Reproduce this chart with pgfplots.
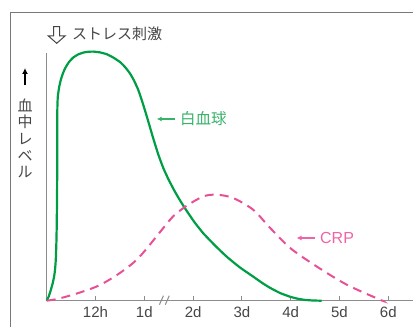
\documentclass[border=0pt]{standalone}
\usepackage{pgfplots}
\pgfplotsset{compat=1.18}
\usepackage{fontspec}
\setmainfont{Liberation Sans}
\newfontfamily\cjk{Noto Sans CJK JP}
\usetikzlibrary{arrows.meta}
\definecolor{wbc}{RGB}{0,158,68}
\definecolor{crp}{RGB}{232,80,150}
\definecolor{wbctext}{RGB}{55,178,105}
\definecolor{crptext}{RGB}{238,100,168}
\definecolor{axisgray}{RGB}{140,140,140}
\definecolor{framegray}{RGB}{120,120,120}
\definecolor{txtgray}{RGB}{70,70,70}
\pgfplotstableread{
x y
0 0
0.037 3.7
0.078 9.7
0.119 16.7
0.150 23.7
0.170 30.7
0.186 40.7
0.197 55.7
0.205 74
0.213 110.7
0.217 150.7
0.218 190.7
0.227 203.7
0.252 212.7
0.283 219.7
0.324 226.2
0.375 232.2
0.457 238.7
0.545 243.2
0.641 246.2
0.75 248.1
0.846 248.9
0.955 249.1
1.092 248.3
1.230 246.5
1.359 243.3
1.502 238.7
1.604 233.7
1.707 227.2
1.789 220.2
1.877 210.7
1.980 195.7
2.082 179.2
2.184 162.2
2.287 146.2
2.389 132.7
2.492 121.7
2.609 110.7
2.721 101.2
2.834 92.4
3.018 79.2
3.209 67.4
3.449 55.2
3.689 44
3.961 33.2
4.234 24
4.412 17.9
4.576 12.9
4.781 7.7
4.986 4
5.150 1.9
5.293 0.8
5.457 0.2
5.635 0
}\wbcdata
\pgfplotstableread{
x y
0 0
0.24 2
0.65 7.7
1.06 15
1.47 26.7
1.88 42.7
2.39 72.7
2.59 84.3
2.87 95
3.21 104.3
3.48 106
3.82 102.7
4.23 91
4.58 72.7
4.99 52.7
5.53 34.3
6.15 16
6.83 1
6.89 0
}\crpdata
\begin{document}
\begin{tikzpicture}
\useasboundingbox (0,0) rectangle (413pt,327pt);
\draw[framegray, line width=1.2pt] (10.7pt,-5pt) -- (10.7pt,314.7pt) -- (420pt,314.7pt);
\begin{axis}[
  at={(46.7pt,26.3pt)}, anchor=south west,
  scale only axis, width=366pt, height=248pt,
  xmin=0, xmax=7.5, ymin=0, ymax=248,
  clip=false,
  axis x line=bottom, axis y line=left,
  axis line style={-, draw=axisgray, line width=1.2pt},
  xtick={1,2,3,4,5,6,7},
  xticklabels={12h,1d,2d,3d,4d,5d,6d},
  ytick=\empty,
  tick align=inside, major tick length=5pt,
  tick style={draw=axisgray, line width=1pt},
  xticklabel style={anchor=base, yshift=-17pt, font=\fontsize{15}{18}\selectfont, text=txtgray, inner sep=0pt},
]
\addplot[wbc, line width=2.2pt, smooth, tension=0.3] table[x=x,y=y] {\wbcdata};
\addplot[crp, line width=2pt, smooth, dash pattern=on 9pt off 6pt] table[x=x,y=y] {\crpdata};
% break mark
\draw[axisgray, line width=1pt] (axis cs:2.31,-4) -- ++(4pt,9pt);
\draw[axisgray, line width=1pt] (axis cs:2.43,-4) -- ++(4pt,9pt);
% labels
\draw[wbctext, line width=1.5pt, -{Latex[length=5pt,width=5pt]}] (axis cs:2.63,181.7) -- (axis cs:2.254,181.7);
\node[anchor=west, inner sep=0pt, text=wbctext, font=\cjk\fontsize{15.5}{18}\selectfont] at (axis cs:2.73,181.7) {白血球};
\draw[crptext, line width=1.5pt, -{Latex[length=5pt,width=5pt]}] (axis cs:5.50,62.7) -- (axis cs:5.12,62.7);
\node[anchor=west, inner sep=0pt, text=crptext, font=\fontsize{16}{18}\selectfont] at (axis cs:5.60,62.7) {CRP};
\end{axis}
% outlined down arrow (stress stimulus)
\draw[txtgray, line width=1pt, fill=white, line join=miter]
  (53.7pt,300.3pt) -- (59.7pt,300.3pt) -- (59.7pt,291pt) -- (65pt,291pt) -- (56.7pt,283.7pt)
  -- (48.4pt,291pt) -- (53.7pt,291pt) -- cycle;
\node[anchor=west, text=txtgray, font=\cjk\fontsize{15}{18}\selectfont, inner sep=0pt] at (72pt,293pt) {ストレス刺激};
\draw[black, line width=1.6pt, -{Latex[length=6pt,width=6pt]}] (25pt,242pt) -- (25pt,259pt);
\node[align=center, text=txtgray, font=\cjk\fontsize{15}{16.7}\selectfont, inner sep=0pt] at (25pt,188.7pt) {血\\中\\レ\\ベ\\ル};
\end{tikzpicture}
\end{document}
